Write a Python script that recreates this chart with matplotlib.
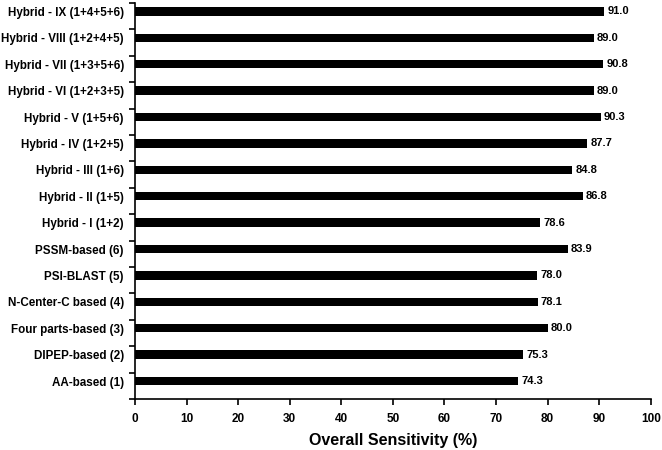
import matplotlib
matplotlib.use("Agg")
import matplotlib.pyplot as plt
import numpy as np

plt.rcParams['font.family'] = ['Liberation Sans', 'DejaVu Sans']
plt.rcParams['font.weight'] = 'bold'

# data, bottom to top
methods = ["AA-based (1)", "DIPEP-based (2)", "Four parts-based (3)",
           "N-Center-C based (4)", "PSI-BLAST (5)", "PSSM-based (6)",
           "Hybrid - I (1+2)", "Hybrid - II (1+5)", "Hybrid - III (1+6)",
           "Hybrid - IV (1+2+5)", "Hybrid - V (1+5+6)", "Hybrid - VI (1+2+3+5)",
           "Hybrid - VII (1+3+5+6)", "Hybrid - VIII (1+2+4+5)",
           "Hybrid - IX (1+4+5+6)"]
sensitivity = [74.3, 75.3, 80.0, 78.1, 78.0, 83.9, 78.6, 86.8, 84.8,
               87.7, 90.3, 89.0, 90.8, 89.0, 91.0]
xticks = list(range(0, 101, 10))

fig = plt.figure(figsize=(6.62, 4.5), dpi=100)
ax = fig.add_axes([0.204, 0.1133, 0.779, 0.880])

y = np.arange(len(methods))
ax.barh(y, sensitivity, height=0.32, color="black")
for yi, v in zip(y, sensitivity):
    ax.text(v + 0.6, yi, f"{v:.1f}", va="center", ha="left",
            fontsize=8, fontweight="bold")

ax.set_xlim(0, 100)
# bars sit a little above the middle of each slot
lo, hi = -0.68, len(methods) - 0.68
ax.set_ylim(lo, hi)
ax.set_xticks(xticks)
ax.set_xticklabels([str(t) for t in xticks], fontsize=8.5, fontweight="bold")
ax.tick_params(axis="x", direction="out", length=4, width=1.2, pad=6)

# category labels at bar centres, tick marks between bars
ax.set_yticks(np.arange(lo, hi + 0.01, 1.0))
ax.set_yticklabels([])
ax.set_yticks(y, minor=True)
ax.set_yticklabels(methods, minor=True, fontsize=8.4, fontweight="bold")
ax.tick_params(axis="y", which="major", direction="out", length=4, width=1.2)
ax.tick_params(axis="y", which="minor", length=0, pad=8)

for side in ["top", "right"]:
    ax.spines[side].set_visible(False)
for side in ["left", "bottom"]:
    ax.spines[side].set_linewidth(1.2)

ax.set_xlabel("Overall Sensitivity (%)", fontsize=11.5, fontweight="bold",
              labelpad=6)

fig.savefig("out.png", dpi=100)
